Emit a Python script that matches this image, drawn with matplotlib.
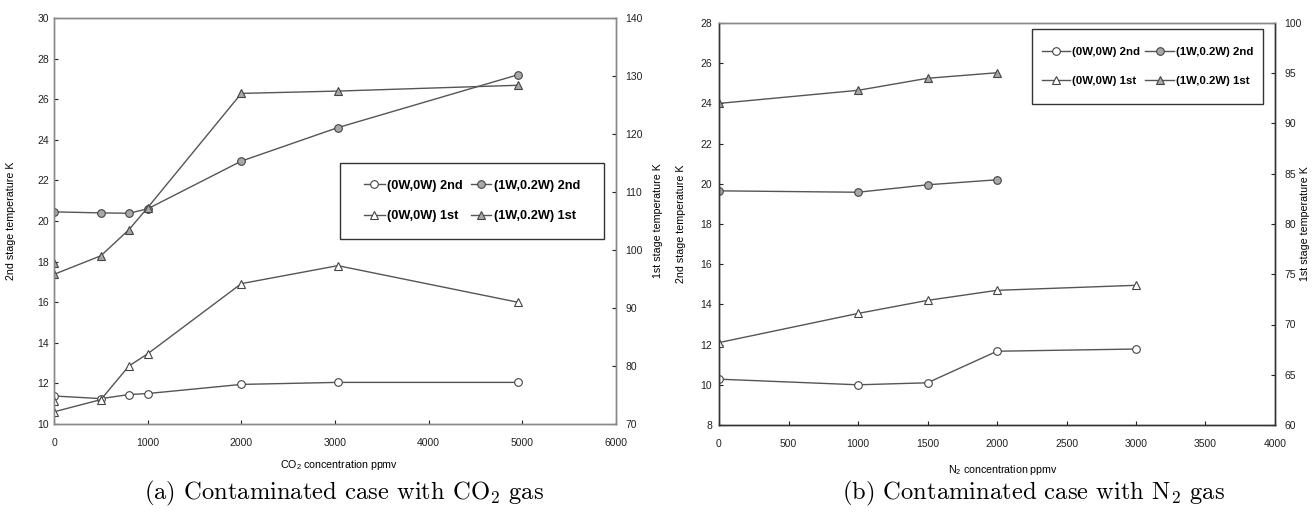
import matplotlib
matplotlib.use("Agg")
import matplotlib.pyplot as plt
from matplotlib.lines import Line2D
from matplotlib.patches import Rectangle

plt.rcParams['font.family'] = ['Liberation Sans', 'DejaVu Sans']
plt.rcParams['mathtext.fontset'] = 'custom'
plt.rcParams['mathtext.rm'] = 'Liberation Sans'
plt.rcParams['mathtext.it'] = 'Liberation Sans:italic'

# ---------------- data: (a) CO2 ----------------
co2_x_2nd = [0, 500, 800, 1000, 2000, 3030, 4950]
co2_2nd_0w = [11.38, 11.25, 11.45, 11.5, 11.95, 12.05, 12.05]
co2_2nd_1w = [20.45, 20.4, 20.38, 20.6, 22.95, 24.6, 27.2]
co2_x_1st = [0, 0, 500, 800, 1000, 2000, 3030, 4950]
co2_1st_0w = [73.9, 72.1, 74.2, 80.0, 82.1, 94.2, 97.3, 91.0]
co2_1st_1w = [97.7, 95.8, 99.0, 103.5, 107.3, 127.0, 127.4, 128.4]

# ---------------- data: (b) N2 ----------------
n2_x_0w = [0, 1000, 1500, 2000, 3000]
n2_x_1w = [0, 1000, 1500, 2000]
n2_2nd_0w = [10.28, 10.0, 10.1, 11.67, 11.78]
n2_2nd_1w = [19.65, 19.58, 19.95, 20.2]
n2_1st_0w = [68.2, 71.1, 72.4, 73.4, 73.9]
n2_1st_1w = [92.0, 93.3, 94.5, 95.05]

labels = ["(0W,0W) 2nd", "(1W,0.2W) 2nd", "(0W,0W) 1st", "(1W,0.2W) 1st"]

LC = '#555555'
styles = {
    "(0W,0W) 2nd": dict(marker='o', mfc='white'),
    "(1W,0.2W) 2nd": dict(marker='o', mfc='#a8a8a8'),
    "(0W,0W) 1st": dict(marker='^', mfc='white'),
    "(1W,0.2W) 1st": dict(marker='^', mfc='#a8a8a8'),
}
common = dict(color=LC, lw=1.0, ms=5.5, mec='#444444', mew=0.8)

fig = plt.figure(figsize=(13.12, 5.12), dpi=100)

W, H = 1312.0, 512.0
def axrect(l, t, r, b):
    return [l / W, (H - b) / H, (r - l) / W, (b - t) / H]

TICK_FS = 7.5
LAB_FS = 7.7


def style_axes(ax, ax2, dotted_all):
    for a in (ax, ax2):
        for s in a.spines.values():
            if dotted_all:
                s.set_linestyle((0, (1, 1)))
                s.set_color('#888888')
            else:
                s.set_color('#333333')
            s.set_linewidth(1.0)
    if not dotted_all:
        for a in (ax, ax2):
            a.spines['top'].set_linestyle((0, (1, 1)))
            a.spines['top'].set_color('#888888')
    ax.tick_params(axis='both', direction='in', length=3, width=0.8,
                   labelsize=TICK_FS, colors='#222222')
    ax2.tick_params(axis='y', direction='in', length=3, width=0.8,
                    labelsize=TICK_FS, colors='#222222')


def make_legend(ax2, box, fs, ls, hl, cs):
    rect = Rectangle((box[0], box[1]), box[2], box[3], transform=ax2.transAxes,
                     facecolor='white', edgecolor='#333333', lw=1.0, zorder=4.5)
    ax2.add_patch(rect)
    handles = []
    order = ["(0W,0W) 2nd", "(0W,0W) 1st", "(1W,0.2W) 2nd", "(1W,0.2W) 1st"]
    for lab in order:
        handles.append(Line2D([], [], label=lab, **common, **styles[lab]))
    leg = ax2.legend(handles=handles, ncol=2, loc='center',
                     bbox_to_anchor=box,
                     prop={'weight': 'bold', 'size': fs},
                     frameon=False, labelspacing=ls, handlelength=hl,
                     handletextpad=0.2, columnspacing=cs, borderpad=0.2,
                     borderaxespad=0)
    leg.set_zorder(6)
    return leg


# ---------------- panel (a) ----------------
ax = fig.add_axes(axrect(54, 18, 616, 424))
ax2 = ax.twinx()
ax.plot(co2_x_2nd, co2_2nd_0w, label=labels[0], **common, **styles[labels[0]])
ax.plot(co2_x_2nd, co2_2nd_1w, label=labels[1], **common, **styles[labels[1]])
ax2.plot(co2_x_1st, co2_1st_0w, label=labels[2], **common, **styles[labels[2]])
ax2.plot(co2_x_1st, co2_1st_1w, label=labels[3], **common, **styles[labels[3]])
ax.set_xlim(0, 6000)
ax.set_ylim(10, 30)
ax2.set_ylim(70, 140)
ax.set_xticks(range(0, 6001, 1000))
ax.set_yticks(range(10, 31, 2))
ax2.set_yticks(range(70, 141, 10))
style_axes(ax, ax2, True)
ax.tick_params(axis='x', pad=10)
ax.tick_params(axis='y', pad=3.5)
ax2.tick_params(axis='y', pad=6.5)
ax.set_ylabel("2nd stage temperature K", fontsize=LAB_FS)
ax2.set_ylabel("1st stage temperature K", fontsize=LAB_FS)
ax.yaxis.set_label_coords(-0.0676, 0.5)
ax2.yaxis.set_label_coords(1.066, 0.5)
ax.set_xlabel("CO$_2$ concentration ppmv", fontsize=LAB_FS)
ax.xaxis.set_label_coords((339 - 54) / 562, (424 - 458) / 406)
make_legend(ax2, ((340 - 54) / 562, (424 - 239) / 406, (604 - 340) / 562, (239 - 163) / 406),
            fs=9.2, ls=1.43, hl=1.6, cs=0.6)

# ---------------- panel (b) ----------------
bx = fig.add_axes(axrect(719, 23, 1275, 425))
bx2 = bx.twinx()
bx.plot(n2_x_0w, n2_2nd_0w, label=labels[0], **common, **styles[labels[0]])
bx.plot(n2_x_1w, n2_2nd_1w, label=labels[1], **common, **styles[labels[1]])
bx2.plot(n2_x_0w, n2_1st_0w, label=labels[2], **common, **styles[labels[2]])
bx2.plot(n2_x_1w, n2_1st_1w, label=labels[3], **common, **styles[labels[3]])
bx.set_xlim(0, 4000)
bx.set_ylim(8, 28)
bx2.set_ylim(60, 100)
bx.set_xticks(range(0, 4001, 500))
bx.set_yticks(range(8, 29, 2))
bx2.set_yticks(range(60, 101, 5))
style_axes(bx, bx2, False)
bx.tick_params(axis='x', pad=10)
bx.tick_params(axis='y', pad=5)
bx2.tick_params(axis='y', pad=6.5)
bx.set_ylabel("2nd stage temperature K", fontsize=LAB_FS)
bx2.set_ylabel("1st stage temperature K", fontsize=LAB_FS)
bx.yaxis.set_label_coords((686 - 719) / 556, 0.5)
bx2.yaxis.set_label_coords((1300 - 719) / 556, 0.5)
bx.set_xlabel("N$_2$ concentration ppmv", fontsize=LAB_FS)
bx.xaxis.set_label_coords((1003 - 719) / 556, (425 - 463) / 402)
make_legend(bx2, ((1032 - 719) / 556, (425 - 104) / 402, (1263 - 1032) / 556, (104 - 29) / 402),
            fs=8.2, ls=1.72, hl=2.5, cs=0.45)

# ---------------- captions ----------------
cap_kw = dict(fontsize=17.7, family='cmr10', ha='center', va='center')
fig.text(344 / W, (H - 493) / H, "(a) Contaminated case with CO$_2$ gas",
         math_fontfamily='cm', **cap_kw)
fig.text(1033 / W, (H - 493) / H, "(b) Contaminated case with N$_2$ gas",
         math_fontfamily='cm', **cap_kw)

fig.savefig("out.png", dpi=100)
